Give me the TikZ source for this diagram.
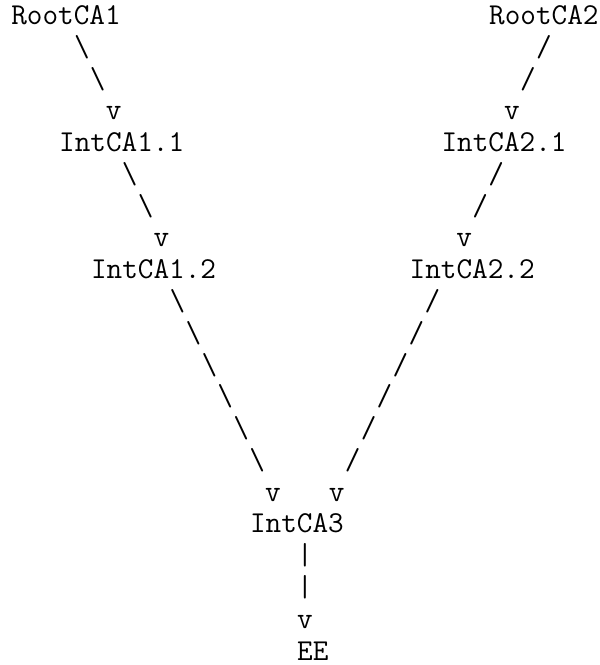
\documentclass[tikz,border=0pt]{standalone}
\usepackage{fontspec}
\tikzset{
ca/.style={font=\ttfamily\fontsize{22.86}{24}\selectfont, inner sep=0pt, anchor=base},% one character cell is 12pt wide
}
\begin{document}
\begin{tikzpicture}[x=12pt, y=-23.94pt]
\useasboundingbox (-0.64,-0.77) rectangle (37.02,20.155);
% certificates
\node[ca] (root1) at (3.5,0) {RootCA1};
\node[ca] (root2) at (33.5,0) {RootCA2};
\node[ca] (int11) at (7,4) {IntCA1.1};
\node[ca] (int21) at (31,4) {IntCA2.1};
\node[ca] (int12) at (9,8) {IntCA1.2};
\node[ca] (int22) at (29,8) {IntCA2.2};
\node[ca] (int3) at (18,16) {IntCA3};
\node[ca] (ee) at (19,20) {EE};
% left branch
\foreach \r/\c in {1/4,2/5,5/7,6/8,9/10,10/11,11/12,12/13,13/14,14/15}
\node[ca] (bs\r) at (\c+0.5,\r) {\textbackslash};
% right branch
\foreach \r/\c in {1/33,2/32,5/30,6/29,9/26,10/25,11/24,12/23,13/22,14/21}
\node[ca] (sl\r) at (\c+0.5,\r) {/};
% down to EE
\foreach \r in {17,18}
\node[ca] (bar\r) at (18.5,\r) {|};
% arrow heads
\foreach \r/\c in {3/6,7/9,15/16,3/31,7/28,15/20,19/18}
\node[ca] (v\r-\c) at (\c+0.5,\r) {v};
\end{tikzpicture}
\end{document}
